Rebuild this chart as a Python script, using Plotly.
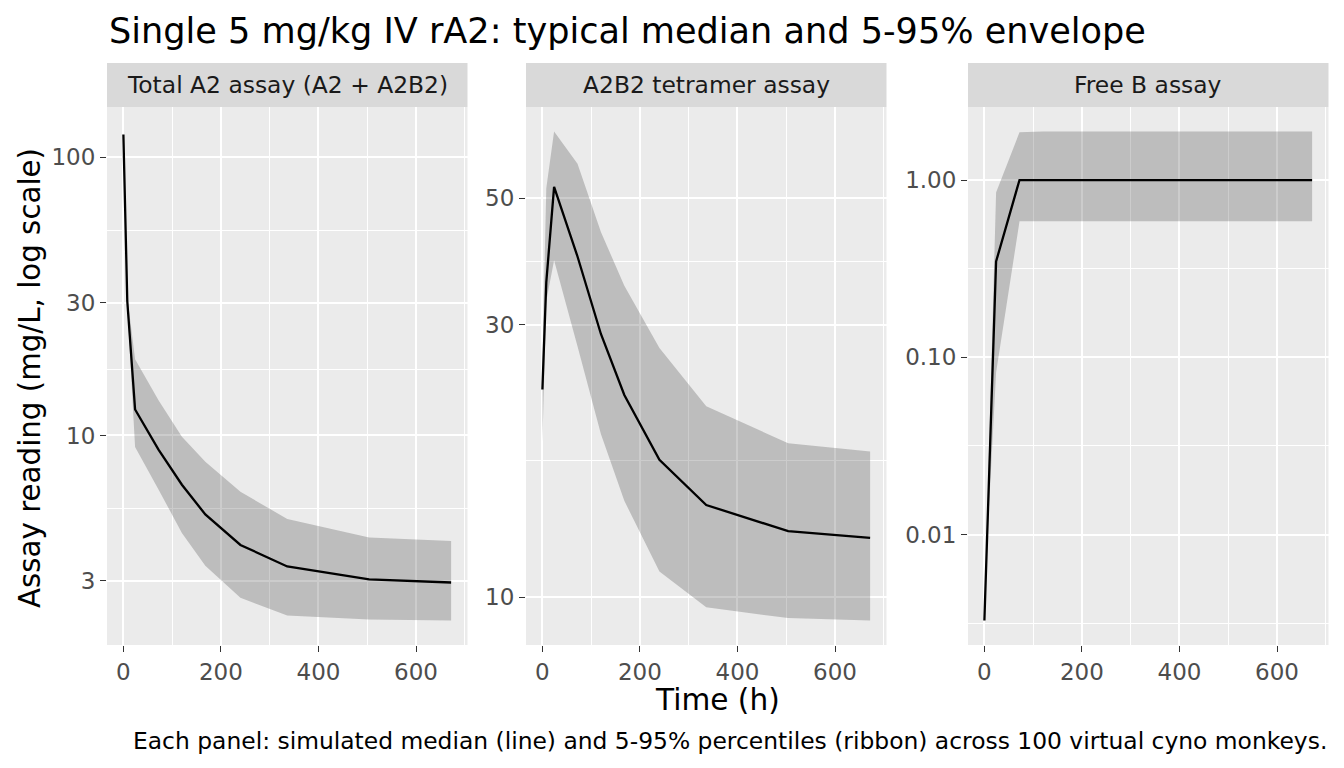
import numpy as np
import plotly.graph_objects as go

W, H = 1344, 768

# ---------------- data ----------------
times = [0, 8, 24, 72, 120, 168, 240, 336, 504, 672]

panel_titles = ["Total A2 assay (A2 + A2B2)", "A2B2 tetramer assay", "Free B assay"]

total_median = [121, 30.4, 12.4, 8.9, 6.65, 5.2, 4.04, 3.38, 3.04, 2.96]
total_lower = [118, 29.3, 9.1, 6.4, 4.46, 3.40, 2.61, 2.25, 2.18, 2.16]
total_upper = [124, 31.5, 18.8, 13.4, 9.9, 8.05, 6.27, 5.01, 4.3, 4.17]

tetra_median = [23.1, 35.6, 52.3, 39.5, 28.9, 22.6, 17.4, 14.5, 13.05, 12.7]
tetra_lower = [18.7, 33.0, 38.9, 27.5, 19.3, 14.75, 11.09, 9.6, 9.19, 9.1]
tetra_upper = [26.0, 52.0, 65.4, 57.4, 43.6, 35.1, 27.3, 21.6, 18.6, 18.0]

freeb_median = [0.00327, 0.0155, 0.347, 1.0, 1.0, 1.0, 1.0, 1.0, 1.0, 1.0]
freeb_lower = [0.00327, 0.012, 0.082, 0.585, 0.585, 0.585, 0.585, 0.585, 0.585, 0.585]
freeb_upper = [0.00327, 0.02, 0.85, 1.86, 1.88, 1.88, 1.88, 1.88, 1.88, 1.88]

x_ticks = [0, 200, 400, 600]
x_minor = [100, 300, 500, 700]

y_ticks = [[3, 10, 30, 100], [10, 30, 50], [0.01, 0.1, 1.0]]
y_ticktext = [["3", "10", "30", "100"], ["10", "30", "50"], ["0.01", "0.10", "1.00"]]

title = "Single 5 mg/kg IV rA2: typical median and 5-95% envelope"
x_title = "Time (h)"
y_title = "Assay reading (mg/L, log scale)"
caption = "Each panel: simulated median (line) and 5-95% percentiles (ribbon) across 100 virtual cyno monkeys."

series = [
    (total_median, total_lower, total_upper),
    (tetra_median, tetra_lower, tetra_upper),
    (freeb_median, freeb_lower, freeb_upper),
]

# ---------------- layout geometry (pixels) ----------------
panel_x = [(107, 467.5), (526, 886.5), (968, 1328.5)]
panel_top, panel_bottom = 107, 645
strip_top = 63

FONT = "DejaVu Sans"


def px(x):
    return x / W


def py(y):
    return 1 - y / H


def minor_log(breaks, lo, hi):
    b = list(np.log10(breaks))
    bd = b[1] - b[0]
    if lo < b[0]:
        b = [b[0] - bd] + b
    if hi > b[-1]:
        b = b + [b[-1] + bd]
    mids = [(b[i] + b[i + 1]) / 2 for i in range(len(b) - 1)]
    return [10 ** m for m in mids if lo <= m <= hi]


fig = go.Figure()

xr = [min(times) - 0.05 * (max(times) - min(times)), max(times) + 0.05 * (max(times) - min(times))]

for i, (med, lo, up) in enumerate(series):
    ax = "" if i == 0 else str(i + 1)
    fig.add_trace(go.Scatter(
        x=list(times) + list(times)[::-1],
        y=list(up) + list(lo)[::-1],
        fill="toself", fillcolor="rgba(51,51,51,0.25)",
        line=dict(width=0), mode="lines", hoverinfo="skip",
        xaxis="x" + ax, yaxis="y" + ax, showlegend=False,
    ))
    fig.add_trace(go.Scatter(
        x=times, y=med, mode="lines",
        line=dict(color="black", width=2.3),
        xaxis="x" + ax, yaxis="y" + ax, showlegend=False,
    ))

    allv = np.log10(np.array(list(med) + list(lo) + list(up)))
    ylo, yhi = allv.min(), allv.max()
    pad = 0.05 * (yhi - ylo)
    yr = [ylo - pad, yhi + pad]

    x0, x1 = panel_x[i]
    common_tick = dict(
        ticks="outside", ticklen=6, tickwidth=1.1, tickcolor="#333333",
        tickfont=dict(family=FONT, size=23, color="#4D4D4D"),
        showgrid=True, gridcolor="white", gridwidth=2,
        zeroline=False, showline=False,
    )
    fig.update_layout(**{
        "xaxis" + ax: dict(
            domain=[px(x0), px(x1)], range=xr, anchor="y" + ax,
            tickmode="array", tickvals=x_ticks, ticktext=[str(t) for t in x_ticks],
            minor=dict(tickmode="array", tickvals=x_minor, showgrid=True,
                       gridcolor="white", gridwidth=1, ticks=""),
            **common_tick,
        ),
        "yaxis" + ax: dict(
            domain=[py(panel_bottom), py(panel_top)], range=yr, type="log",
            anchor="x" + ax,
            tickmode="array", tickvals=y_ticks[i], ticktext=y_ticktext[i],
            minor=dict(tickmode="array", tickvals=minor_log(y_ticks[i], yr[0], yr[1]),
                       showgrid=True, gridcolor="white", gridwidth=1, ticks=""),
            **common_tick,
        ),
    })

    # strip
    fig.add_shape(type="rect", xref="paper", yref="paper",
                  x0=px(x0), x1=px(x1), y0=py(panel_top), y1=py(strip_top),
                  fillcolor="#D9D9D9", line=dict(width=0), layer="below")
    fig.add_annotation(text=panel_titles[i], xref="paper", yref="paper",
                       x=px((x0 + x1) / 2), y=py((strip_top + panel_top) / 2),
                       xanchor="center", yanchor="middle", showarrow=False,
                       font=dict(family=FONT, size=23.4, color="#1A1A1A"))

fig.add_annotation(text=title, xref="paper", yref="paper",
                   x=px(107), y=py(30), xanchor="left", yanchor="middle",
                   showarrow=False, font=dict(family=FONT, size=35.1, color="black"))
fig.add_annotation(text=y_title, xref="paper", yref="paper",
                   x=px(30), y=py((panel_top + panel_bottom) / 2 + 2), textangle=-90,
                   xanchor="center", yanchor="middle",
                   showarrow=False, font=dict(family=FONT, size=29.3, color="black"))
fig.add_annotation(text=x_title, xref="paper", yref="paper",
                   x=px((107 + 1328.5) / 2), y=py(700), xanchor="center", yanchor="middle",
                   showarrow=False, font=dict(family=FONT, size=29.6, color="black"))
fig.add_annotation(text=caption, xref="paper", yref="paper",
                   x=px(1328.5), y=py(741), xanchor="right", yanchor="middle",
                   showarrow=False, font=dict(family=FONT, size=23.4, color="black"))

fig.update_layout(
    width=W, height=H, autosize=False,
    margin=dict(l=0, r=0, t=0, b=0),
    paper_bgcolor="white", plot_bgcolor="#EBEBEB",
    font=dict(family=FONT),
)

fig.write_html("out.html")
